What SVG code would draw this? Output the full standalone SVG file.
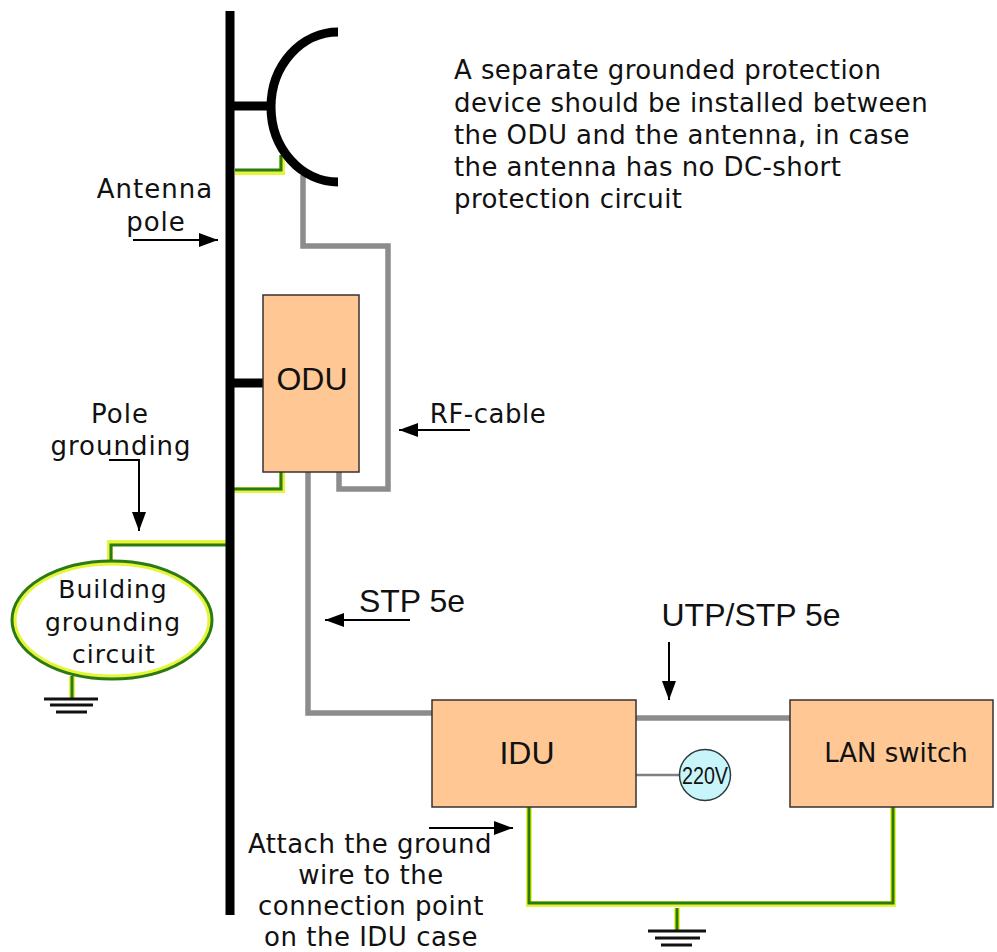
<svg xmlns="http://www.w3.org/2000/svg" width="997" height="952" viewBox="0 0 997 952">
<defs>
<marker id="ah" markerUnits="userSpaceOnUse" markerWidth="20" markerHeight="16" refX="19" refY="8" orient="auto"><path d="M0 1L19 8L0 15Z" fill="#000"/></marker>
</defs>
<style>
text{fill:#111;font-family:"DejaVu Sans",sans-serif;font-size:26px;letter-spacing:1px;text-anchor:middle}
.l{text-anchor:start;letter-spacing:.42px}
.h{letter-spacing:.5px}
.a{font-family:"Liberation Sans",sans-serif;letter-spacing:0;font-size:32px}
.n{fill:#ffc794;stroke:#3a3030;stroke-width:1.5}
.g{fill:none;stroke:#e4f53a;stroke-width:6}
.d{fill:none;stroke:#2c7a12;stroke-width:3}
.c{fill:none;stroke:#8c8c8c;stroke-width:5.5}
.k{fill:none;stroke:#000;stroke-width:9}
.t{stroke:#000;stroke-width:2;fill:none}
.e{stroke:#111;stroke-width:3;fill:none}
</style>
<rect width="997" height="952" fill="#fff"/>
<g id="connectors">
<path class="g" d="M235 172H282V155M234 490H282V472M228 543H110V565M72 676V698M529 807V904H893V807M677 908V930"/>
<path class="d" d="M235 170H281V155M234 489H281V472M228 545H111V565M72 676V698M529 807V903H893V807M677 908V930"/>
<path class="c" d="M303 175V246H388V489H339V472M308 472V713H432M636 718H790"/>
<path stroke="#808080" stroke-width="2.5" fill="none" d="M636 775H680"/>
<path class="t" d="M133 240H218" marker-end="url(#ah)"/>
<path class="t" d="M109 460H139V531" marker-end="url(#ah)"/>
<path class="t" d="M470 430H399" marker-end="url(#ah)"/>
<path class="t" d="M410 620H325" marker-end="url(#ah)"/>
<path class="t" d="M669 642V700" marker-end="url(#ah)"/>
<path class="t" d="M429 828H513" marker-end="url(#ah)"/>
</g>
<g id="pole"><path class="k" d="M230 11V915M234 106H271M234 383H263"/></g>
<g id="antenna"><path class="k" d="M338 32A67 75 0 0 0 338 182"/></g>
<g id="odu"><rect class="n" x="263" y="295" width="96" height="177"/><text class="a" x="312" y="390">ODU</text></g>
<g id="idu"><rect class="n" x="432" y="700" width="204" height="107"/><text class="a" x="527" y="764">IDU</text></g>
<g id="lan"><rect class="n" x="790" y="700" width="203" height="107"/><text x="896" y="762" style="letter-spacing:0">LAN switch</text></g>
<g id="power"><circle cx="705" cy="775" r="25.5" fill="#c8f5fa" stroke="#2c3c3c" stroke-width="1.5"/><text class="a" x="705" y="784" style="font-size:23px" textLength="46" lengthAdjust="spacingAndGlyphs">220V</text></g>
<g id="building"><ellipse cx="112" cy="620" rx="98" ry="57" fill="#fff" stroke="#e4f53a" stroke-width="5"/><ellipse cx="112" cy="620" rx="100" ry="59" fill="none" stroke="#2c7a12" stroke-width="3"/>
<text x="113" y="598" style="font-size:25px">Building</text><text x="113" y="631" style="font-size:25px">grounding</text><text x="114" y="663" style="font-size:25px">circuit</text></g>
<g id="ground1"><path class="e" d="M44 699H98M50 705H93M56 712H87"/></g>
<g id="ground2"><path class="e" d="M648 931H706M655 938H700M661 945H692"/></g>
<g id="labels">
<text class="l" x="454" y="79">A separate grounded protection</text>
<text class="l" x="454" y="112">device should be installed between</text>
<text class="l" x="454" y="144">the ODU and the antenna, in case</text>
<text class="l" x="454" y="176">the antenna has no DC-short</text>
<text class="l" x="454" y="208">protection circuit</text>
<text x="155" y="198">Antenna</text><text x="156" y="231">pole</text>
<text x="120" y="423">Pole</text><text x="121" y="455">grounding</text>
<text class="h" x="488" y="423">RF-cable</text>
<text class="a" x="412" y="612">STP 5e</text>
<text class="a" x="751" y="626">UTP/STP 5e</text>
<text class="h" x="370" y="853">Attach the ground</text><text class="h" x="371" y="884">wire to the</text><text class="h" x="371" y="915">connection point</text><text class="h" x="371" y="946">on the IDU case</text>
</g>
</svg>
